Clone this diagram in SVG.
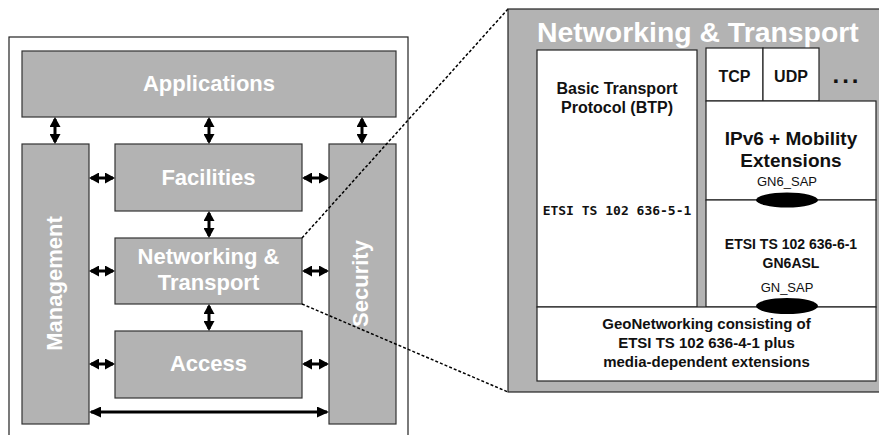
<svg xmlns="http://www.w3.org/2000/svg" width="879" height="435" viewBox="0 0 879 435">
<defs>
<style>
.blk{fill:#b3b3b3;stroke:#333;stroke-width:1.2}
.wbox{fill:#fff;stroke:#222;stroke-width:1.2}
.lt{font-family:"Liberation Sans",Arial,sans-serif;font-weight:bold;fill:#fff;text-anchor:middle}
.rt{font-family:"Liberation Sans",Arial,sans-serif;font-weight:bold;fill:#111;text-anchor:middle}
.rn{font-family:"Liberation Sans",Arial,sans-serif;fill:#111;text-anchor:middle;font-size:13px}
.mono{font-family:"DejaVu Sans Mono","Liberation Mono",monospace;font-weight:bold;fill:#111;text-anchor:middle;font-size:13px}
.arr{stroke:#000;stroke-width:3;fill:none;marker-start:url(#ah);marker-end:url(#ah)}
.arrL{stroke:#000;stroke-width:2.8;fill:none;marker-start:url(#ahL);marker-end:url(#ahL)}
.dash{stroke:#000;stroke-width:1.5;stroke-dasharray:3 2;fill:none}
</style>
<marker id="ah" viewBox="0 0 10 11" refX="8" refY="5.5" markerWidth="10" markerHeight="11" markerUnits="userSpaceOnUse" orient="auto-start-reverse">
<path d="M0,0 L10,5.5 L0,11 z" fill="#000"/>
</marker>
<marker id="ahL" viewBox="0 0 12 11" refX="10" refY="5.5" markerWidth="12" markerHeight="11" markerUnits="userSpaceOnUse" orient="auto-start-reverse">
<path d="M0,0 L12,5.5 L0,11 z" fill="#000"/>
</marker>
</defs>
<rect width="879" height="435" fill="#fff"/>

<g id="left-panel">
<rect x="9" y="37" width="399" height="420" fill="#fff" stroke="#222" stroke-width="1.2"/>
</g>
<g id="applications">
<rect class="blk" x="22" y="51" width="374" height="66"/>
<text class="lt" x="209" y="91" font-size="22">Applications</text>
</g>
<g id="management">
<rect class="blk" x="22" y="144" width="67" height="280"/>
<text class="lt" font-size="22" transform="translate(62,283.5) rotate(-90)">Management</text>
</g>
<g id="facilities">
<rect class="blk" x="115" y="144" width="187" height="67"/>
<text class="lt" x="208.5" y="185" font-size="22">Facilities</text>
</g>
<g id="networking">
<rect class="blk" x="115" y="238" width="187" height="66"/>
<text class="lt" x="208.5" y="264" font-size="22">Networking &amp;</text>
<text class="lt" x="208.5" y="290" font-size="22">Transport</text>
</g>
<g id="access">
<rect class="blk" x="115" y="331" width="187" height="67"/>
<text class="lt" x="208.5" y="371" font-size="22">Access</text>
</g>
<g id="security">
<rect class="blk" x="329" y="144" width="67" height="280"/>
<text class="lt" font-size="22" transform="translate(368,283.5) rotate(-90)">Security</text>
</g>

<g id="connectors">
<line class="arr" x1="55" y1="119" x2="55" y2="142"/>
<line class="arr" x1="209" y1="119" x2="209" y2="142"/>
<line class="arr" x1="362" y1="119" x2="362" y2="142"/>
<line class="arr" x1="209" y1="213" x2="209" y2="236"/>
<line class="arr" x1="209" y1="306" x2="209" y2="329"/>
<line class="arr" x1="91" y1="178" x2="113" y2="178"/>
<line class="arr" x1="91" y1="271" x2="113" y2="271"/>
<line class="arr" x1="91" y1="364" x2="113" y2="364"/>
<line class="arr" x1="304" y1="178" x2="327" y2="178"/>
<line class="arr" x1="304" y1="271" x2="327" y2="271"/>
<line class="arr" x1="304" y1="364" x2="327" y2="364"/>
<line class="arrL" x1="91" y1="412" x2="327" y2="412"/>
<line class="dash" x1="302" y1="238" x2="508" y2="9"/>
<line class="dash" x1="302" y1="304" x2="508" y2="392"/>
</g>

<g id="detail-panel">
<rect x="508" y="9" width="380" height="383" fill="#b3b3b3" stroke="#222" stroke-width="1.2"/>
<text x="537" y="42" font-family="'Liberation Sans',Arial,sans-serif" font-weight="bold" font-size="28.4" fill="#fff">Networking &amp; Transport</text>
</g>
<g id="btp">
<rect class="wbox" x="537" y="50" width="160" height="257"/>
<text class="rt" x="617" y="94" font-size="16">Basic Transport</text>
<text class="rt" x="617" y="113" font-size="16">Protocol (BTP)</text>
<text class="mono" x="617" y="215">ETSI TS 102 636-5-1</text>
</g>
<g id="tcp">
<rect class="wbox" x="706" y="48" width="57" height="53"/>
<text class="rt" x="734.5" y="82" font-size="16">TCP</text>
</g>
<g id="udp">
<rect class="wbox" x="763" y="48" width="56" height="53"/>
<text class="rt" x="791" y="82" font-size="16">UDP</text>
</g>
<g id="more">
<text class="rt" x="847" y="83" font-size="24" letter-spacing="3">...</text>
</g>
<g id="ipv6">
<rect class="wbox" x="706" y="101" width="170" height="99"/>
<text class="rt" x="791" y="145" font-size="19">IPv6 + Mobility</text>
<text class="rt" x="791" y="167" font-size="19">Extensions</text>
<text class="rn" x="787" y="186">GN6_SAP</text>
</g>
<g id="gn6asl">
<rect class="wbox" x="706" y="200" width="170" height="107"/>
<text class="rt" x="791" y="249" font-size="14">ETSI TS 102 636-6-1</text>
<text class="rt" x="791" y="268" font-size="14">GN6ASL</text>
<text class="rn" x="787" y="292">GN_SAP</text>
</g>
<g id="geonetworking">
<rect class="wbox" x="537" y="307" width="339" height="74"/>
<text class="rt" x="706.5" y="329" font-size="15">GeoNetworking consisting of</text>
<text class="rt" x="706.5" y="348" font-size="15">ETSI TS 102 636-4-1 plus</text>
<text class="rt" x="706.5" y="367" font-size="15">media-dependent extensions</text>
</g>
<g id="saps">
<ellipse cx="787" cy="200" rx="31" ry="7.5" fill="#000"/>
<ellipse cx="787" cy="306" rx="31" ry="8" fill="#000"/>
</g>
</svg>
